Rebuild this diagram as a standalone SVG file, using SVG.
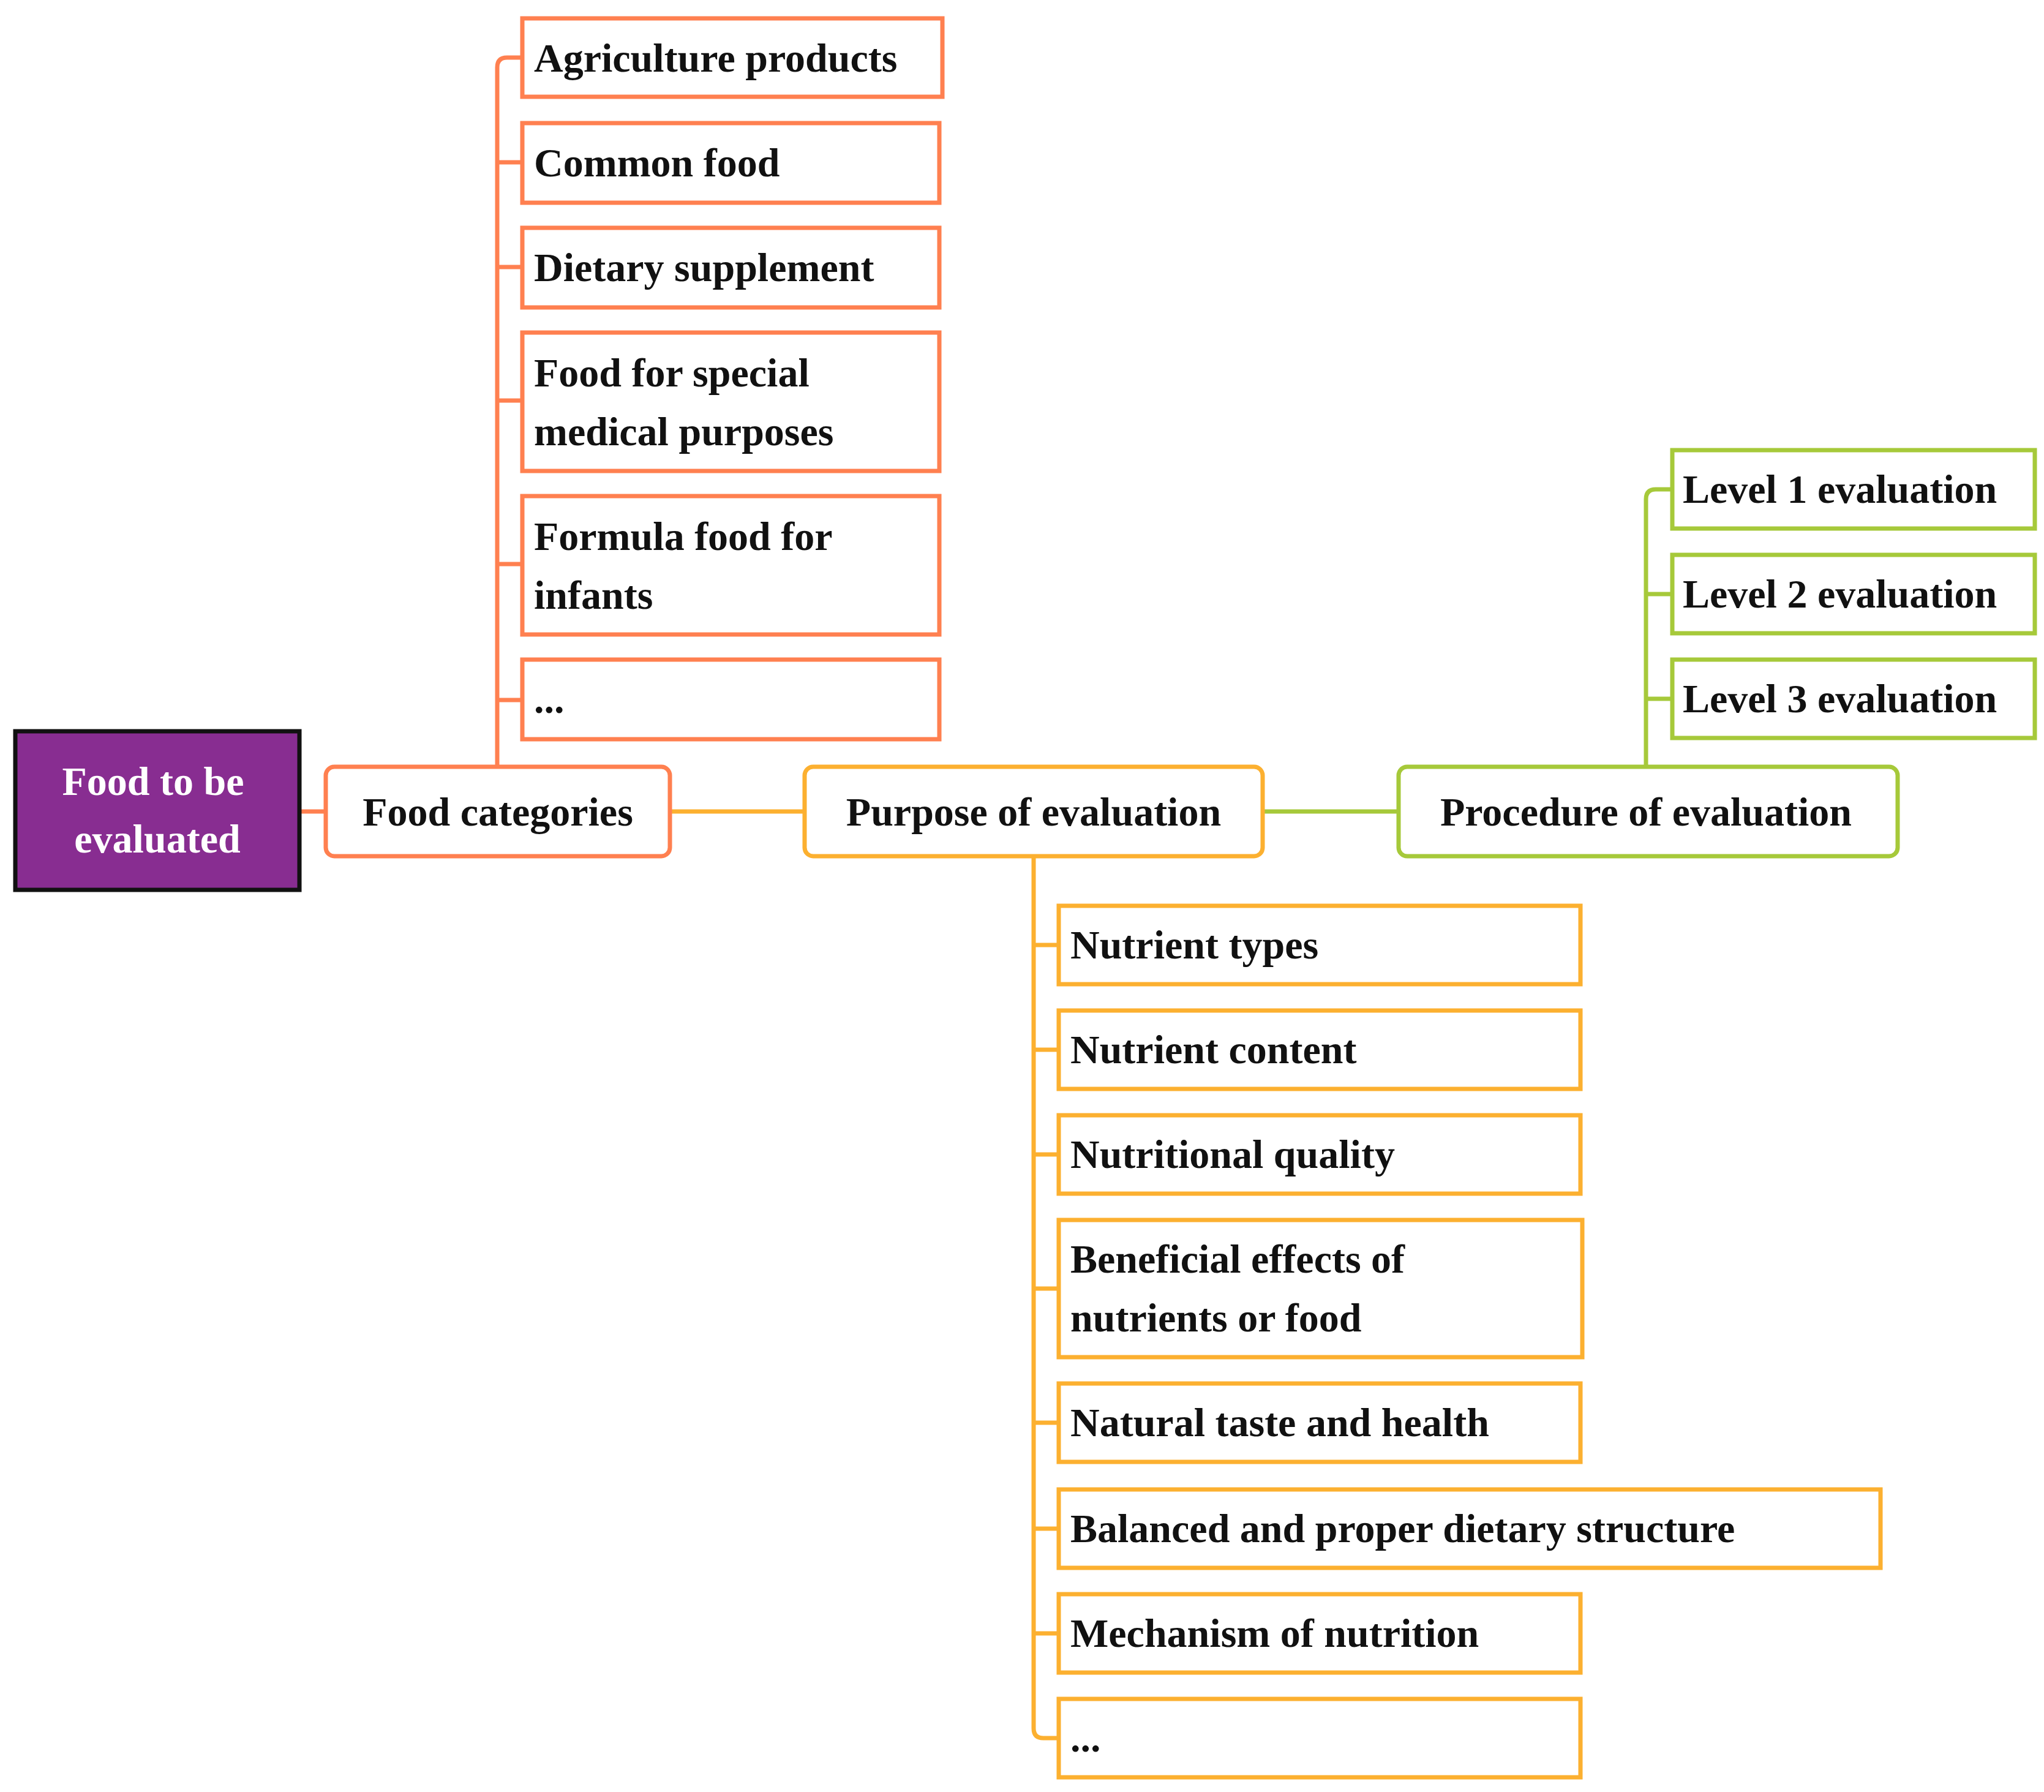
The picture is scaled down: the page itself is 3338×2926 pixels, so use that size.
<svg xmlns="http://www.w3.org/2000/svg" width="3338" height="2926" viewBox="0 0 3338 2926">
<style>
text{font-family:"Liberation Serif","Times New Roman",serif;font-weight:bold;font-size:66px;fill:#111}
.o{fill:#fff;stroke:#FF8050;stroke-width:7}
.y{fill:#fff;stroke:#FCB030;stroke-width:7}
.g{fill:#fff;stroke:#A6C93A;stroke-width:7}
.lo{fill:none;stroke:#FF8050;stroke-width:7}
.ly{fill:none;stroke:#FCB030;stroke-width:7}
.lg{fill:none;stroke:#A6C93A;stroke-width:7}
.c{text-anchor:middle}
</style>
<rect width="3338" height="2926" fill="#fff"/>
<g id="connectors">
<path class="lo" d="M491 1325H532"/>
<path class="ly" d="M1094 1325H1314"/>
<path class="lg" d="M2062 1325H2284"/>
<path class="lo" d="M812 1252V110Q812 94 828 94H853M812 265H853M812 436H853M812 654H853M812 921H853M812 1143H853"/>
<path class="ly" d="M1688 1398V2822Q1688 2838 1704 2838H1729M1688 1543H1729M1688 1714H1729M1688 1885H1729M1688 2104H1729M1688 2323H1729M1688 2496H1729M1688 2667H1729"/>
<path class="lg" d="M2688 1252V815Q2688 799 2704 799H2731M2688 970H2731M2688 1141H2731"/>
</g>
<g id="root"><rect x="25" y="1194" width="464" height="259" fill="#882D91" stroke="#111" stroke-width="7"/>
<text class="c" x="250" y="1298" style="fill:#fff">Food to be</text><text class="c" x="257" y="1392" style="fill:#fff">evaluated</text></g>
<g id="food-categories"><rect class="o" x="532" y="1252" width="562" height="146" rx="14"/><text class="c" x="813" y="1348">Food categories</text></g>
<g id="purpose"><rect class="y" x="1314" y="1252" width="748" height="146" rx="14"/><text class="c" x="1688" y="1348">Purpose of evaluation</text></g>
<g id="procedure"><rect class="g" x="2284" y="1252" width="815" height="146" rx="14"/><text class="c" x="2688" y="1348">Procedure of evaluation</text></g>
<g id="agri"><rect class="o" x="853" y="30" width="686" height="128"/><text x="872" y="117">Agriculture products</text></g>
<g id="common"><rect class="o" x="853" y="201" width="681" height="130"/><text x="872" y="288">Common food</text></g>
<g id="dietary"><rect class="o" x="853" y="372" width="681" height="130"/><text x="872" y="459">Dietary supplement</text></g>
<g id="fsmp"><rect class="o" x="853" y="543" width="681" height="226"/><text x="872" y="631">Food for special</text><text x="872" y="727">medical purposes</text></g>
<g id="formula"><rect class="o" x="853" y="810" width="681" height="226"/><text x="872" y="898">Formula food for</text><text x="872" y="994">infants</text></g>
<g id="etc1"><rect class="o" x="853" y="1077" width="681" height="130"/><text x="872" y="1164">...</text></g>
<g id="l1"><rect class="g" x="2731" y="735" width="592" height="128"/><text x="2748" y="821">Level 1 evaluation</text></g>
<g id="l2"><rect class="g" x="2731" y="906" width="592" height="128"/><text x="2748" y="992">Level 2 evaluation</text></g>
<g id="l3"><rect class="g" x="2731" y="1077" width="592" height="128"/><text x="2748" y="1163">Level 3 evaluation</text></g>
<g id="ntypes"><rect class="y" x="1729" y="1479" width="852" height="128"/><text x="1748" y="1565">Nutrient types</text></g>
<g id="ncontent"><rect class="y" x="1729" y="1650" width="852" height="128"/><text x="1748" y="1736">Nutrient content</text></g>
<g id="nquality"><rect class="y" x="1729" y="1821" width="852" height="128"/><text x="1748" y="1907">Nutritional quality</text></g>
<g id="benef"><rect class="y" x="1729" y="1992" width="855" height="224"/><text x="1748" y="2078">Beneficial effects of</text><text x="1748" y="2174">nutrients or food</text></g>
<g id="taste"><rect class="y" x="1729" y="2259" width="852" height="128"/><text x="1748" y="2345">Natural taste and health</text></g>
<g id="balanced"><rect class="y" x="1729" y="2432" width="1342" height="128"/><text x="1748" y="2518">Balanced and proper dietary structure</text></g>
<g id="mech"><rect class="y" x="1729" y="2603" width="852" height="128"/><text x="1748" y="2689">Mechanism of nutrition</text></g>
<g id="etc2"><rect class="y" x="1729" y="2774" width="852" height="128"/><text x="1748" y="2860">...</text></g>
</svg>
